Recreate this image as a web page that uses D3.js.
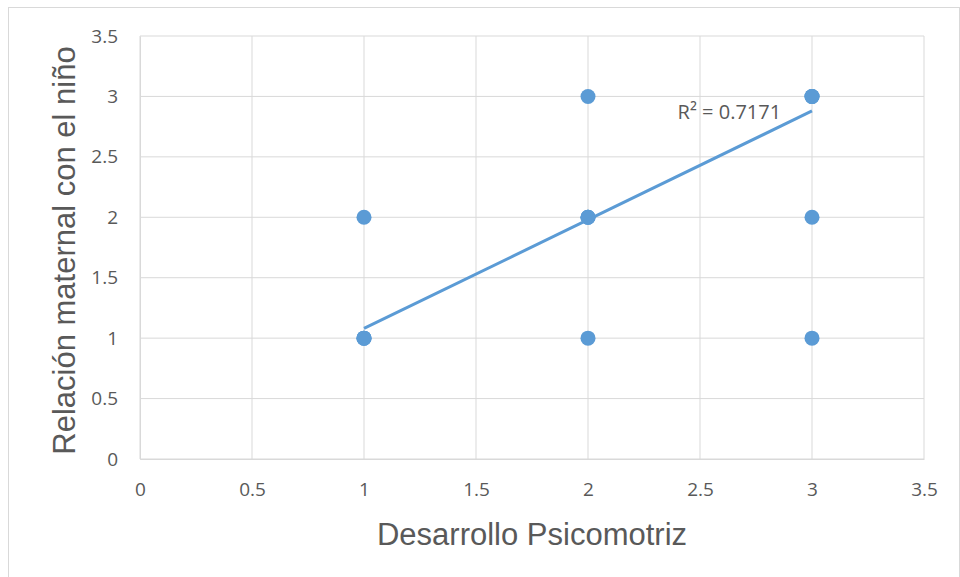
<!DOCTYPE html>
<html>
<head>
<meta charset="utf-8">
<script src="https://cdn.jsdelivr.net/npm/d3@7"></script>
<style>
  body { margin: 0; background: #fff; }
</style>
</head>
<body>
<div id="chart"></div>
<script>
// data (some points overlap several times)
var ptX = [1, 1, 1, 1, 2, 2, 2, 2, 2, 3, 3, 3, 3, 3];
var ptY = [1, 1, 1, 2, 1, 2, 2, 2, 3, 1, 2, 3, 3, 3];
var trendX = [1, 3];
var trendY = [1.08, 2.88];
var xTicks = [0, 0.5, 1, 1.5, 2, 2.5, 3, 3.5];
var yTicks = [0, 0.5, 1, 1.5, 2, 2.5, 3, 3.5];
var r2Label = "R² = 0.7171";

var W = 960, H = 577;
var margin = {top: 36, right: 36, bottom: 118, left: 140},
    width = W - margin.left - margin.right,
    height = H - margin.top - margin.bottom;

var svg = d3.select("#chart").append("svg")
    .attr("width", W)
    .attr("height", H);

// outer chart border
svg.append("rect")
    .attr("x", 8.5).attr("y", 7.5)
    .attr("width", 951).attr("height", 572)
    .attr("fill", "none")
    .attr("stroke", "#d9d9d9");

var g = svg.append("g")
    .attr("transform", "translate(" + margin.left + "," + margin.top + ")");

var x = d3.scaleLinear().domain([0, 3.5]).range([0, width]);
var y = d3.scaleLinear().domain([0, 3.5]).range([height, 0]);

// gridlines
g.append("g")
  .selectAll("line.v")
  .data(xTicks)
  .enter().append("line")
    .attr("x1", function(d) { return x(d); })
    .attr("x2", function(d) { return x(d); })
    .attr("y1", 0).attr("y2", height)
    .attr("stroke", "#d9d9d9").attr("stroke-width", 1);
g.append("g")
  .selectAll("line.h")
  .data(yTicks)
  .enter().append("line")
    .attr("y1", function(d) { return y(d); })
    .attr("y2", function(d) { return y(d); })
    .attr("x1", 0).attr("x2", width)
    .attr("stroke", "#d9d9d9").attr("stroke-width", 1);

// axes
var xAxis = g.append("g")
    .attr("transform", "translate(0," + height + ")")
    .call(d3.axisBottom(x).tickValues(xTicks).tickSize(0).tickPadding(24).tickFormat(d3.format("")));
var yAxis = g.append("g")
    .call(d3.axisLeft(y).tickValues(yTicks).tickSize(0).tickPadding(22).tickFormat(d3.format("")));
[xAxis, yAxis].forEach(function(a) {
  a.select(".domain").attr("stroke", "#d9d9d9");
  a.selectAll("text")
    .style("font-family", "'Open Sans', 'Noto Sans', sans-serif")
    .style("font-size", "19px")
    .attr("fill", "#595959");
});

// points
g.selectAll("circle")
  .data(ptX.map(function(d, i) { return {x: d, y: ptY[i]}; }))
  .enter().append("circle")
    .attr("cx", function(d) { return x(d.x); })
    .attr("cy", function(d) { return y(d.y); })
    .attr("r", 7.5)
    .attr("fill", "#5b9bd5");

// trend line
g.append("path")
    .datum(trendX.map(function(d, i) { return [d, trendY[i]]; }))
    .attr("d", d3.line().x(function(d) { return x(d[0]); }).y(function(d) { return y(d[1]); }))
    .attr("stroke", "#5b9bd5")
    .attr("stroke-width", 3)
    .attr("fill", "none");

g.append("text")
    .attr("x", x(2.4))
    .attr("y", y(2.81))
    .style("font-family", "'Open Sans', 'Noto Sans', sans-serif")
    .style("font-size", "20px")
    .attr("fill", "#595959")
    .text(r2Label);

// axis titles
svg.append("text")
    .attr("x", margin.left + width / 2)
    .attr("y", 545)
    .attr("text-anchor", "middle")
    .style("font-family", "'Liberation Sans', Arial, sans-serif")
    .style("font-size", "31px")
    .attr("fill", "#595959")
    .text("Desarrollo Psicomotriz");

svg.append("text")
    .attr("transform", "translate(75," + (margin.top + height / 2 + 3) + ") rotate(-90)")
    .attr("text-anchor", "middle")
    .style("font-family", "'Liberation Sans', Arial, sans-serif")
    .style("font-size", "31px")
    .attr("fill", "#595959")
    .text("Relación maternal con el niño");
</script>
</body>
</html>
